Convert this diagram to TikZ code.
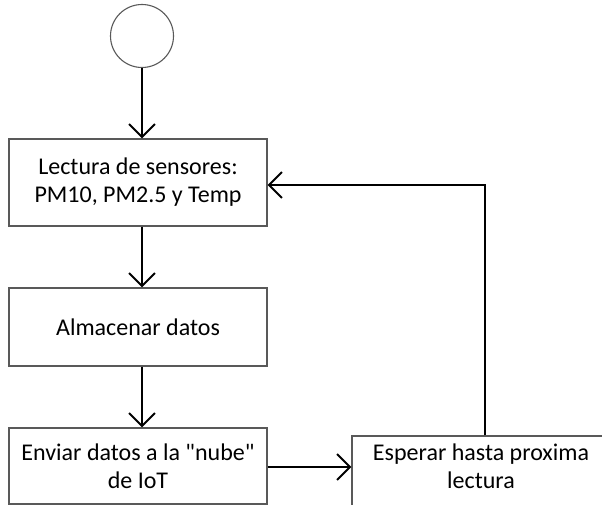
\documentclass[tikz,border=0pt]{standalone}
\usepackage{fontspec}
\setmainfont{Carlito}[Ligatures=TeXOff]
\usetikzlibrary{arrows.meta}
\begin{document}
\begin{tikzpicture}[x=1pt,y=-1pt,
  box/.style={draw=black!65, line width=1.1pt, rectangle, minimum width=258pt, align=center,
    font=\fontsize{24}{28}\selectfont, inner sep=0pt},
  startc/.style={draw=black!65, line width=1.1pt, circle, minimum size=63pt, inner sep=0pt},
  flow/.style={line width=2pt, -{Straight Barb[length=13pt,width=26pt,line width=2pt]}}]
\useasboundingbox (0,0) rectangle (602,505);
\clip (0,0) rectangle (602,505);
\node[startc] (start) at (142,36) {};
\node[box, minimum height=87pt] (b1) at (138,182.5) {Lectura de sensores:\\PM10, PM2.5 y Temp};
\node[box, minimum height=78pt] (b2) at (138,327) {Almacenar datos};
\node[box, minimum height=76pt] (b3) at (138,466) {Enviar datos a la "nube"\\de IoT};
\node[box, minimum height=74pt] (b4) at (481,473) {};
\node[font=\fontsize{24}{28}\selectfont, align=center, inner sep=0pt] (t4) at (481,466) {Esperar hasta proxima\\lectura};
\coordinate (fb) at (485,185);
\draw[flow] (start.south) -- (start.south |- b1.north);
\draw[flow] (b1.south -| start) -- (b2.north -| start);
\draw[flow] (b2.south -| start) -- (b3.north -| start);
\draw[flow] (b3.east |- 0,467) -- (b4.west |- 0,467);
\draw[flow] (b4.north -| fb) -- (fb) -- (fb -| b1.east);
\end{tikzpicture}
\end{document}
